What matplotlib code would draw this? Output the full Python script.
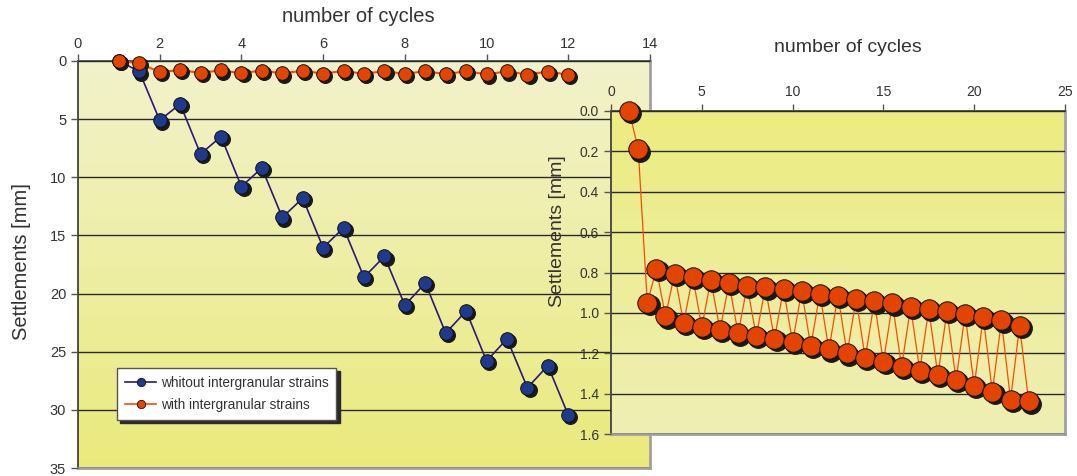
import numpy as np
import matplotlib.pyplot as plt
from matplotlib.colors import LinearSegmentedColormap
from matplotlib.transforms import offset_copy

plt.rcParams['font.family'] = ['Liberation Sans', 'DejaVu Sans']

# data
cycles = [1, 1.5, 2, 2.5, 3, 3.5, 4, 4.5, 5, 5.5, 6, 6.5, 7, 7.5, 8, 8.5, 9, 9.5,
          10, 10.5, 11, 11.5, 12, 12.5, 13, 13.5, 14, 14.5, 15, 15.5, 16, 16.5,
          17, 17.5, 18, 18.5, 19, 19.5, 20, 20.5, 21, 21.5, 22, 22.5, 23]
without_ig = [0.0, 0.9, 5.1, 3.7, 8.0, 6.5, 10.8, 9.2, 13.45, 11.8, 16.05, 14.35,
              18.6, 16.8, 21.0, 19.1, 23.4, 21.5, 25.8, 23.9, 28.1, 26.2, 30.45]
with_ig = [0.0, 0.19, 0.951, 0.782, 1.017, 0.807, 1.050, 0.820, 1.070, 0.836,
           1.086, 0.853, 1.102, 0.866, 1.116, 0.874, 1.129, 0.882, 1.145, 0.892,
           1.165, 0.905, 1.181, 0.915, 1.201, 0.931, 1.224, 0.943, 1.244, 0.953,
           1.267, 0.971, 1.286, 0.982, 1.309, 0.992, 1.332, 1.007, 1.362, 1.020,
           1.392, 1.037, 1.431, 1.066, 1.439]
n_left = len(without_ig)

W, H = 1077, 476
fig = plt.figure(figsize=(W / 100, H / 100), dpi=100)

txt = '#333333'
blue = '#1f3a8c'
blue_line = '#2a1a78'
orange = '#e34400'
orange_line = '#ff4a00'


def pix_axes(x0, x1, ytop, ybot):
    return fig.add_axes([x0 / W, 1 - ybot / H, (x1 - x0) / W, (ybot - ytop) / H])


def gradient(ax, extent, c_top, c_bot):
    cmap = LinearSegmentedColormap.from_list('g', [c_top, c_bot])
    grad = np.linspace(0, 1, 200).reshape(-1, 1)
    ax.imshow(grad, extent=extent, cmap=cmap, aspect='auto', zorder=0,
              origin='upper', interpolation='bicubic')


def shadow_markers(ax, x, y, size, color):
    tr = offset_copy(ax.transData, fig=fig, x=2.2, y=-2.2, units='dots')
    ax.plot(x, y, 'o', ms=size, color='#1a1a1a', mec='#1a1a1a', transform=tr,
            zorder=4, clip_on=False)
    ax.plot(x, y, 'o', ms=size, color=color, mec='#111111', mew=0.7,
            zorder=5, clip_on=False)


def style(ax):
    ax.xaxis.tick_top()
    ax.tick_params(axis='both', direction='out', length=5, width=1,
                   colors='#555555', labelcolor=txt, labelsize=10.5)
    ax.set_axisbelow(False)
    for s in ('left', 'top'):
        ax.spines[s].set_color('#333333')
        ax.spines[s].set_linewidth(1.2)
    for s in ('right', 'bottom'):
        ax.spines[s].set_color('#a0a0a0')
        ax.spines[s].set_linewidth(2)


# ---- left panel
ax1 = pix_axes(78, 650, 61, 468)
gradient(ax1, [0, 14, 35, 0], '#f2f2cc', '#eaea7c')
ax1.plot(cycles[:n_left], without_ig, color=blue_line, lw=1.2, zorder=3)
ax1.plot(cycles[:n_left], with_ig[:n_left], color=orange_line, lw=1.5, zorder=3)
shadow_markers(ax1, cycles[:n_left], without_ig, 9.8, blue)
shadow_markers(ax1, cycles[:n_left], with_ig[:n_left], 9.8, orange)
ax1.set_xlim(0, 14)
ax1.set_ylim(35, 0)
ax1.set_xticks(range(0, 15, 2))
ax1.set_yticks(range(0, 36, 5))
style(ax1)
ax1.tick_params(axis='x', pad=2)
ax1.grid(axis='y', color='#2a2a2a', lw=1, zorder=1)

h1, = ax1.plot([], [], color=blue_line, lw=1.2, marker='o', ms=6,
               mfc=blue, mec='#111111', mew=0.6)
h2, = ax1.plot([], [], color=orange_line, lw=1.2, marker='o', ms=6,
               mfc=orange, mec='#111111', mew=0.6)
leg = ax1.legend([h1, h2], ['whitout intergranular strains', 'with intergranular strains'],
                 loc='upper left', bbox_to_anchor=(117 / W, 1 - 368 / H),
                 bbox_transform=fig.transFigure, borderaxespad=0, fancybox=False,
                 frameon=True, fontsize=9.8, handlelength=2.3, handletextpad=0.3,
                 labelspacing=0.55, borderpad=0.6, numpoints=1,
                 shadow={'ox': 2.2, 'oy': -2.2, 'color': '#2a2a2a', 'alpha': 1})
leg.get_frame().set_edgecolor('#555555')
leg.get_frame().set_linewidth(1)
leg.get_frame().set_facecolor('white')
leg.get_frame().set_alpha(1)
for t in leg.get_texts():
    t.set_color(txt)
leg.set_zorder(10)

fig.text(358 / W, 1 - 17 / H, 'number of cycles', ha='center', va='center',
         fontsize=14.5, color=txt)
fig.text(22 / W, 1 - 262 / H, 'Settlements [mm]', ha='center', va='center',
         rotation=90, fontsize=14.5, color=txt)

# ---- right panel (zoom on the series with intergranular strains)
ax2 = pix_axes(611, 1065, 111, 434)
gradient(ax2, [0, 25, 1.6, 0], '#ecec80', '#efefb4')
ax2.plot(cycles, with_ig, color=orange_line, lw=0.9, zorder=3)
shadow_markers(ax2, cycles, with_ig, 14, orange)
ax2.set_xlim(0, 25)
ax2.set_ylim(1.6, 0)
ax2.set_xticks(range(0, 26, 5))
ax2.set_yticks(np.arange(0, 1.61, 0.2))
ax2.yaxis.set_major_formatter(plt.FormatStrFormatter('%.1f'))
style(ax2)
ax2.tick_params(labelsize=10)
ax2.grid(axis='y', color='#2a2a2a', lw=1, zorder=1)
ax2.set_zorder(5)

fig.text(848 / W, 1 - 47 / H, 'number of cycles', ha='center', va='center',
         fontsize=14, color=txt)
fig.text(557 / W, 1 - 231 / H, 'Settlements [mm]', ha='center', va='center',
         rotation=90, fontsize=14, color=txt, zorder=10)

fig.savefig('out.png', dpi=100)
